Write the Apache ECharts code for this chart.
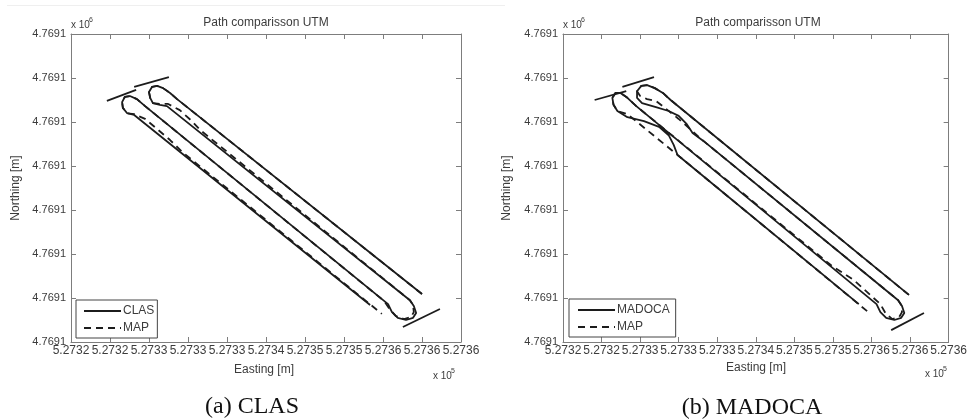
<!DOCTYPE html>
<html>
<head>
<meta charset="utf-8">
<script src="https://cdn.jsdelivr.net/npm/echarts@6/dist/echarts.min.js"></script>
<style>html,body{margin:0;padding:0;background:#fff}#c{width:970px;height:420px}</style>
</head>
<body>
<div id="c"></div>
<script>
// Tick labels (as printed on the axes; values are in tick-index units)
const xTickLabels = ['5.2732','5.2732','5.2733','5.2733','5.2733','5.2734','5.2735','5.2735','5.2736','5.2736','5.2736'];
const yTickLabels = ['4.7691','4.7691','4.7691','4.7691','4.7691','4.7691','4.7691','4.7691'];
const panelTitle = 'Path comparisson UTM';
const captions = ['(a) CLAS', '(b) MADOCA'];

// Panel (a): CLAS vs MAP  [easting-tick units, northing-tick units]
const clasA = [[9.00,1.09],[2.72,5.52],[2.54,5.66],[2.36,5.77],[2.21,5.82],[2.08,5.80],[2.00,5.68],[2.03,5.55],[2.10,5.43],[2.28,5.39],[2.46,5.36],
  [8.69,0.95],[8.79,0.82],[8.85,0.66],[8.77,0.55],[8.59,0.50],[8.38,0.55],[8.23,0.68],[8.13,0.86],
  [1.90,5.36],[1.69,5.52],[1.51,5.59],[1.38,5.57],[1.31,5.45],[1.33,5.32],[1.44,5.20],[1.62,5.16],[7.67,0.84]];
const mapA = [[9.00,1.09],[2.72,5.52],[2.54,5.66],[2.36,5.77],[2.21,5.82],[2.08,5.80],[2.00,5.68],[2.03,5.55],[2.10,5.43],[2.28,5.41],[2.49,5.41],
  [2.79,5.27],[3.10,5.02],[3.31,4.82],[8.69,0.95],[8.77,0.84],[8.79,0.68],[8.72,0.57],[8.54,0.52],[8.33,0.59],[8.15,0.77],[8.03,0.93],
  [1.90,5.36],[1.69,5.52],[1.51,5.59],[1.38,5.57],[1.31,5.45],[1.33,5.32],[1.44,5.20],[1.62,5.18],[1.90,5.07],[2.21,4.84],[2.54,4.59],
  [2.85,4.32],[3.10,4.14],[7.97,0.64]];
const crossA1 = [[0.92,5.48],[1.67,5.73]];
const crossA2 = [[1.62,5.80],[2.51,6.02]];
const crossA3 = [[8.51,0.34],[9.46,0.75]];

// Panel (b): MADOCA vs MAP
const madocaB = [[8.97,1.07],[2.79,5.50],[2.59,5.66],[2.38,5.77],[2.18,5.84],[2.03,5.82],[1.92,5.70],[1.92,5.55],[2.05,5.43],[2.41,5.34],[2.74,5.25],
  [3.00,5.14],[3.21,4.95],[3.36,4.75],[3.64,4.57],[8.69,0.95],[8.79,0.82],[8.85,0.66],[8.77,0.55],[8.59,0.50],[8.38,0.55],[8.23,0.68],[8.13,0.86],
  [1.90,5.36],[1.67,5.55],[1.49,5.66],[1.36,5.66],[1.28,5.55],[1.31,5.39],[1.41,5.25],[1.67,5.11],[2.10,5.02],[2.49,4.89],[2.74,4.70],
  [2.87,4.48],[2.97,4.25],[7.67,0.86]];
const mapB = [[8.97,1.07],[2.79,5.50],[2.59,5.66],[2.38,5.77],[2.18,5.84],[2.03,5.82],[1.92,5.70],[2.00,5.59],[2.18,5.52],[2.41,5.48],[3.00,5.07],
  [3.64,4.57],[8.69,0.95],[8.77,0.84],[8.79,0.68],[8.72,0.57],[8.54,0.52],[8.36,0.66],[8.23,0.86],[7.54,1.41],[6.97,1.73],
  [1.90,5.36],[1.67,5.55],[1.49,5.66],[1.36,5.66],[1.28,5.55],[1.31,5.39],[1.41,5.25],[1.67,5.18],[3.00,4.23],[7.97,0.64]];
const crossB1 = [[0.82,5.50],[1.64,5.70]];
const crossB2 = [[1.54,5.80],[2.36,6.02]];
const crossB3 = [[8.51,0.27],[9.36,0.66]];

const FONT = 'Liberation Sans, Arial, sans-serif';
const FRAME = '#7d7d7d';
const TXT = '#3c3c3c';
const INK = '#1c1c1c';

const chart = echarts.init(document.getElementById('c'), null, {renderer: 'canvas'});

function axesFor(gi) {
  const tick = {show: true, inside: true, length: 5, lineStyle: {color: FRAME, width: 1}};
  const line = {show: true, onZero: false, lineStyle: {color: FRAME, width: 1}};
  return {
    x: [
      {type: 'value', gridIndex: gi, min: 0, max: xTickLabels.length - 1, interval: 1, position: 'bottom',
       axisLine: line, axisTick: tick, splitLine: {show: false},
       axisLabel: {show: true, margin: 3, fontSize: 12, color: TXT, fontFamily: FONT, hideOverlap: false,
         formatter: v => xTickLabels[Math.round(v)]}},
      {type: 'value', gridIndex: gi, min: 0, max: xTickLabels.length - 1, interval: 1, position: 'top',
       axisLine: line, axisTick: tick, splitLine: {show: false}, axisLabel: {show: false}}
    ],
    y: [
      {type: 'value', gridIndex: gi, min: 0, max: yTickLabels.length - 1, interval: 1, position: 'left',
       axisLine: line, axisTick: tick, splitLine: {show: false},
       axisLabel: {show: true, margin: 5, fontSize: 11, color: TXT, fontFamily: FONT,
         formatter: v => yTickLabels[Math.round(v)]}},
      {type: 'value', gridIndex: gi, min: 0, max: yTickLabels.length - 1, interval: 1, position: 'right',
       axisLine: line, axisTick: tick, splitLine: {show: false}, axisLabel: {show: false}}
    ]
  };
}
const a0 = axesFor(0), a1 = axesFor(1);

function ser(name, data, xi, yi, dashed) {
  return {
    type: 'line', name: name, data: data, xAxisIndex: xi, yAxisIndex: yi,
    symbol: 'none', showSymbol: false, smooth: false, animation: false,
    lineStyle: {color: INK, width: 1.8, type: dashed ? [7, 5] : 'solid'},
    itemStyle: {color: INK}, z: dashed ? 3 : 2
  };
}

function txt(x, y, text, size, opts) {
  return Object.assign({type: 'text', x: x, y: y, silent: true,
    style: Object.assign({text: text, fontSize: size, fontFamily: FONT, fill: TXT, textAlign: 'center', textVerticalAlign: 'middle'}, opts || {})});
}

const legendBase = {
  orient: 'vertical', selectedMode: false, itemWidth: 37, itemHeight: 12, itemGap: 5,
  borderColor: '#444', borderWidth: 1, backgroundColor: '#fff', borderRadius: 0,
  itemStyle: {color: 'transparent', borderColor: 'transparent', borderWidth: 0, opacity: 0},
  textStyle: {fontSize: 12, color: TXT, fontFamily: FONT, padding: [0, 0, 0, -3]}
};

chart.setOption({
  animation: false,
  backgroundColor: '#fff',
  grid: [
    {left: 71, top: 34, width: 390, height: 308, containLabel: false},
    {left: 563, top: 34, width: 390, height: 308, containLabel: false}
  ],
  xAxis: [a0.x[0], a0.x[1], a1.x[0], a1.x[1]],
  yAxis: [a0.y[0], a0.y[1], a1.y[0], a1.y[1]],
  legend: [
    Object.assign({}, legendBase, {data: ['CLAS', 'MAP'], left: 76, top: 300, padding: [5, 3, 4, 7]}),
    Object.assign({}, legendBase, {data: ['MADOCA', 'MAP'], left: 569, top: 299, padding: [5, 6, 4, 8]})
  ],
  series: [
    ser('CLAS', clasA, 0, 0, false),
    ser('CLAS', crossA1, 0, 0, false),
    ser('CLAS', crossA2, 0, 0, false),
    ser('CLAS', crossA3, 0, 0, false),
    ser('MAP', mapA, 0, 0, true),
    ser('MADOCA', madocaB, 2, 2, false),
    ser('MADOCA', crossB1, 2, 2, false),
    ser('MADOCA', crossB2, 2, 2, false),
    ser('MADOCA', crossB3, 2, 2, false),
    ser('MAP', mapB, 2, 2, true)
  ],
  graphic: [
    {type: 'line', silent: true, shape: {x1: 7, y1: 5.5, x2: 505, y2: 5.5}, style: {stroke: '#efefef', lineWidth: 1}},
    txt(266, 23, panelTitle, 12),
    txt(758, 23, panelTitle, 12),
    txt(264, 370, 'Easting [m]', 12),
    txt(756, 368, 'Easting [m]', 12),
    Object.assign(txt(16, 188, 'Northing [m]', 12), {rotation: Math.PI / 2}),
    Object.assign(txt(507, 188, 'Northing [m]', 12), {rotation: Math.PI / 2}),
    txt(71, 25, 'x 10', 10, {textAlign: 'left'}),
    txt(89, 20, '6', 7, {textAlign: 'left'}),
    txt(563, 25, 'x 10', 10, {textAlign: 'left'}),
    txt(581, 20, '6', 7, {textAlign: 'left'}),
    txt(433, 376, 'x 10', 10, {textAlign: 'left'}),
    txt(451, 371, '5', 7, {textAlign: 'left'}),
    txt(925, 374, 'x 10', 10, {textAlign: 'left'}),
    txt(943, 369, '5', 7, {textAlign: 'left'}),
    txt(252, 407, captions[0], 24, {fontFamily: 'Liberation Serif, Times New Roman, serif', fill: '#111'}),
    txt(752, 408, captions[1], 24, {fontFamily: 'Liberation Serif, Times New Roman, serif', fill: '#111'})
  ]
});
</script>
</body>
</html>
